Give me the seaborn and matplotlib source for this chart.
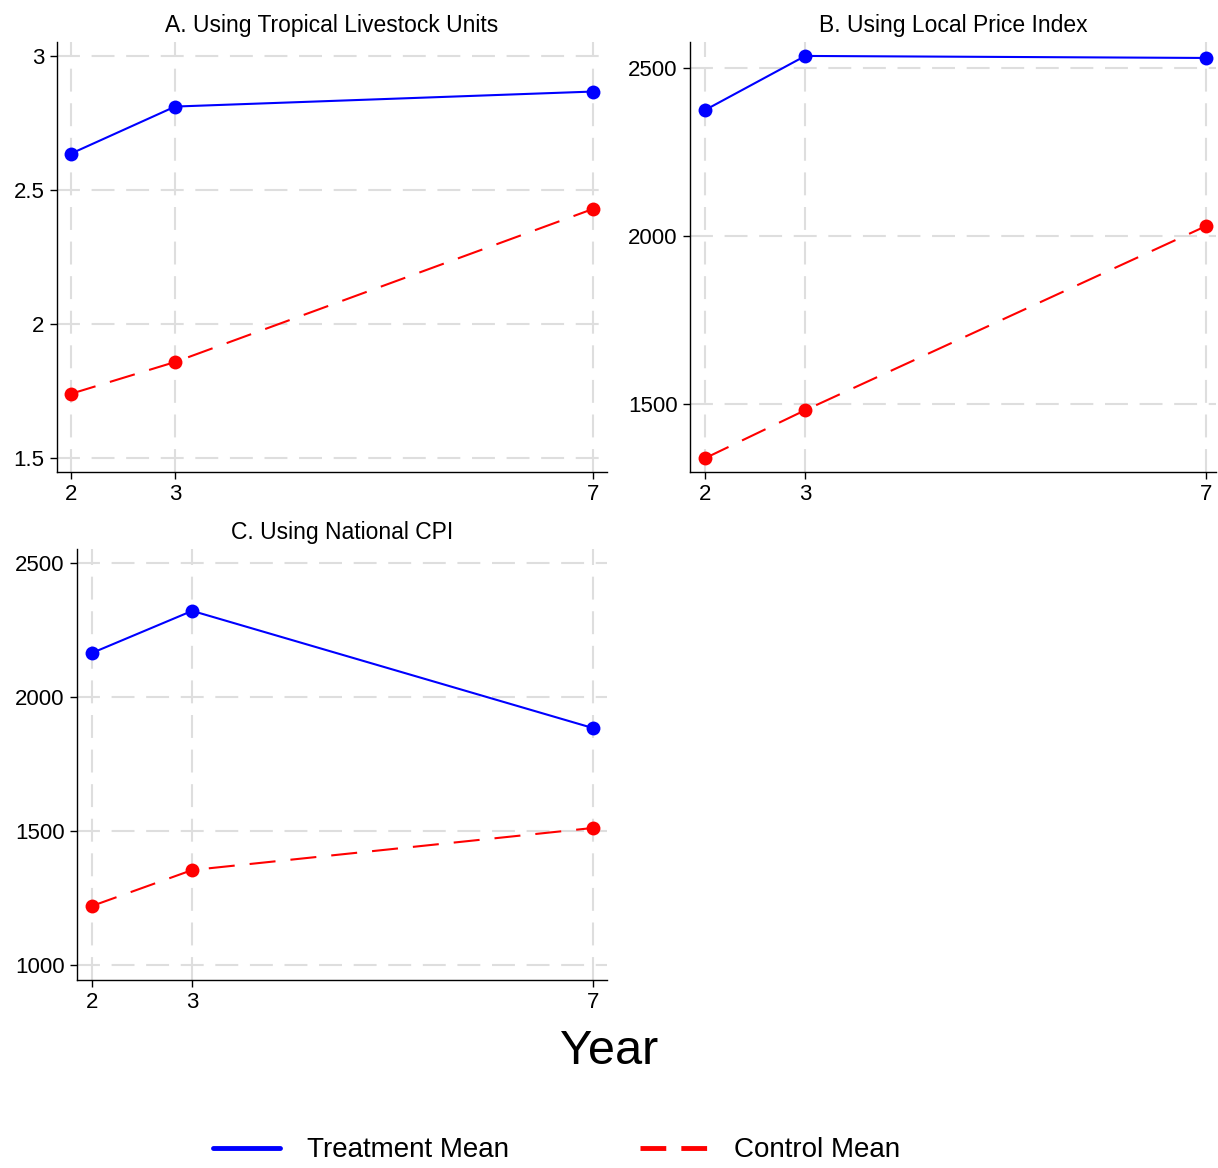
import numpy as np
import pandas as pd
import matplotlib
matplotlib.use("Agg")
import matplotlib.pyplot as plt
from matplotlib.lines import Line2D
import seaborn as sns

# Data
years = [2, 3, 7]
groups = ["Treatment Mean", "Control Mean"]

tlu_treat = [2.634, 2.810, 2.866]
tlu_ctrl = [1.739, 1.858, 2.429]

lpi_treat = [2375, 2536, 2530]
lpi_ctrl = [1339, 1482, 2030]

cpi_treat = [2164, 2321, 1884]
cpi_ctrl = [1220, 1354, 1511]

titles = ["A. Using Tropical Livestock Units",
          "B. Using Local Price Index",
          "C. Using National CPI"]
yticks_a = [1.5, 2, 2.5, 3]
ytick_labels_a = ["1.5", "2", "2.5", "3"]
yticks_b = [1500, 2000, 2500]
yticks_c = [1000, 1500, 2000, 2500]

def long_df(treat, ctrl):
    return pd.DataFrame({
        "year": years * 2,
        "value": treat + ctrl,
        "group": [groups[0]] * 3 + [groups[1]] * 3,
    })

# Style
sns.set_style("white")
plt.rcParams["font.family"] = ["Liberation Sans", "DejaVu Sans"]
plt.rcParams["text.color"] = "black"
plt.rcParams["xtick.color"] = "black"
plt.rcParams["ytick.color"] = "black"

palette = {groups[0]: "#0000ff", groups[1]: "#ff0000"}
dashes = {groups[0]: "", groups[1]: (12.5, 7.2)}
markers = {groups[0]: "o", groups[1]: "o"}

fig = plt.figure(figsize=(12.18, 11.68), dpi=100)
ax_a = fig.add_axes([0.0468, 0.5959, 0.4516, 0.368])
ax_b = fig.add_axes([0.5665, 0.5959, 0.432, 0.368])
ax_c = fig.add_axes([0.0632, 0.161, 0.435, 0.369])

panels = [
    (ax_a, long_df(tlu_treat, tlu_ctrl), titles[0], yticks_a, ytick_labels_a, (1.448, 3.05), (1.87, 7.13)),
    (ax_b, long_df(lpi_treat, lpi_ctrl), titles[1], yticks_b, [str(v) for v in yticks_b], (1298, 2577), (1.85, 7.1)),
    (ax_c, long_df(cpi_treat, cpi_ctrl), titles[2], yticks_c, [str(v) for v in yticks_c], (944, 2552), (1.85, 7.14)),
]

for ax, df, title, yt, ytl, ylim, xlim in panels:
    sns.lineplot(data=df, x="year", y="value", hue="group", style="group",
                 palette=palette, dashes=dashes, markers=markers,
                 markersize=10, markeredgewidth=0, linewidth=1.5,
                 legend=False, ax=ax, zorder=3)
    ax.set_xticks(years)
    ax.set_xticklabels([str(y) for y in years])
    ax.set_yticks(yt)
    ax.set_yticklabels(ytl)
    ax.set_xlim(*xlim)
    ax.set_ylim(*ylim)
    ax.set_xlabel("")
    ax.set_ylabel("")
    ax.set_title(title, fontsize=16.5, pad=7, color="black")
    ax.grid(True, color="#dedede", linewidth=1.5, linestyle=(0, (11, 5.6)), zorder=0)
    ax.set_axisbelow(True)
    for s in ["top", "right"]:
        ax.spines[s].set_visible(False)
    for s in ["left", "bottom"]:
        ax.spines[s].set_color("black")
        ax.spines[s].set_linewidth(1.0)
    ax.tick_params(axis="both", which="both", direction="out", length=5,
                   width=1.0, color="black", labelcolor="black", labelsize=16,
                   pad=4, left=True, bottom=True)

fig.text(0.5, 0.1, "Year", fontsize=35, ha="center", va="center", color="black")

handles = [
    Line2D([0], [0], color=palette[groups[0]], lw=3.5),
    Line2D([0], [0], color=palette[groups[1]], lw=3.5, dashes=(5.3, 3.1)),
]
fig.legend(handles, groups, loc="center", bbox_to_anchor=(0.457, 0.015),
           ncol=2, frameon=False, fontsize=20, handlelength=2.4,
           handletextpad=1.0, columnspacing=4.7, borderpad=0.1)

fig.savefig("out.png", dpi=100)
